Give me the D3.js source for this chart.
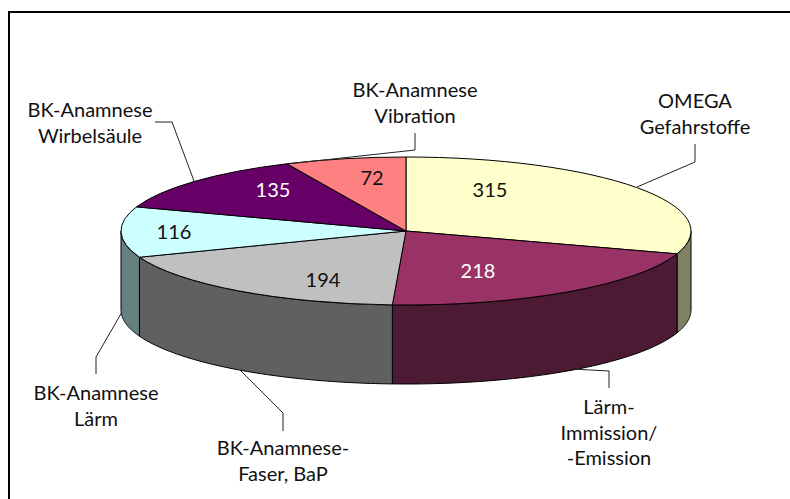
<!DOCTYPE html>
<html><head><meta charset="utf-8">
<script src="https://cdn.jsdelivr.net/npm/d3@7"></script>
<style>html,body{margin:0;padding:0;background:#fff}svg{display:block}text{font-family:Lato,"Open Sans",sans-serif;font-size:20px;fill:#111}</style>
</head><body><svg width="790" height="499"></svg>
<script>
const categories=["OMEGA Gefahrstoffe","Lärm-Immission/-Emission","BK-Anamnese-Faser, BaP","BK-Anamnese Lärm","BK-Anamnese Wirbelsäule","BK-Anamnese Vibration"];
const values=[315,218,194,116,135,72];
const topColors=["#FFFFCC","#993366","#C0C0C0","#CCFFFF","#660066","#FF8080"];
const sideColors=["#808066","#4D1A33","#606060","#668080","#330033","#804040"];
const valueColors=["#111","#fff","#111","#111","#fff","#111"];
const labelLines=[["OMEGA","Gefahrstoffe"],["Lärm-","Immission/","-Emission"],["BK-Anamnese-","Faser, BaP"],["BK-Anamnese","Lärm"],["BK-Anamnese","Wirbelsäule"],["BK-Anamnese","Vibration"]];
const labelAnchors=[[695,101],[609,407],[283,448],[96,393],[90,110],[415,90]];
const valueAnchors=[[490,190],[478,271],[323,280],[174,232],[273,190],[372,178]];
const leaders=[[[637,187],[695,162],[695,144]],[[572,369],[609,371],[609,388]],[[240,370],[283,413],[283,431]],[[122,312],[96,357],[96,374]],[[194,181],[172,122],[155,122]],[[287,164],[415,150],[415,133]]];
const cx=406,cy=231,rx=285,ry=74,depth=79;
const svg=d3.select("svg");
svg.append("path").attr("d",d3.line()([[9,499],[9,12],[790,12]])).attr("fill","none").attr("stroke","#000").attr("stroke-width",2);
const arcs=d3.pie().sort(null)(values);
const px=a=>cx+rx*Math.sin(a), py=a=>cy-ry*Math.cos(a);
// side walls
const g=svg.append("g");
arcs.forEach((d,i)=>{
  const a0=Math.max(d.startAngle,Math.PI/2), a1=Math.min(d.endAngle,Math.PI*1.5);
  if(a1<=a0) return;
  const p=d3.path();
  p.moveTo(px(a0),py(a0));
  const n=60;
  d3.range(1,n+1).forEach(k=>{const a=a0+(a1-a0)*k/n;p.lineTo(px(a),py(a));});
  d3.range(n,-1,-1).forEach(k=>{const a=a0+(a1-a0)*k/n;p.lineTo(px(a),py(a)+depth);});
  p.closePath();
  g.append("path").attr("d",p.toString()).attr("fill",sideColors[i]).attr("stroke","#000").attr("stroke-width",1).attr("stroke-linejoin","round");
});
// top faces
const arc=d3.arc().innerRadius(0).outerRadius(rx);
const t=svg.append("g").attr("transform",`translate(${cx},${cy}) scale(1,${ry/rx})`);
t.selectAll("path").data(arcs).join("path").attr("d",arc).attr("fill",(d,i)=>topColors[i]).attr("stroke","#000").attr("stroke-width",1).attr("vector-effect","non-scaling-stroke");
// leaders
const line=d3.line();
svg.append("g").selectAll("path").data(leaders).join("path").attr("d",line).attr("fill","none").attr("stroke","#222").attr("stroke-width",1);
// value labels
svg.append("g").selectAll("text").data(values).join("text").attr("x",(d,i)=>valueAnchors[i][0]).attr("y",(d,i)=>valueAnchors[i][1]+7).attr("text-anchor","middle").style("fill",(d,i)=>valueColors[i]).text(d=>d);
// category labels
labelLines.forEach((ls,i)=>{
  ls.forEach((s,j)=>svg.append("text").attr("x",labelAnchors[i][0]).attr("y",labelAnchors[i][1]+j*25.5+7).attr("text-anchor","middle").text(s));
});
</script></body></html>
